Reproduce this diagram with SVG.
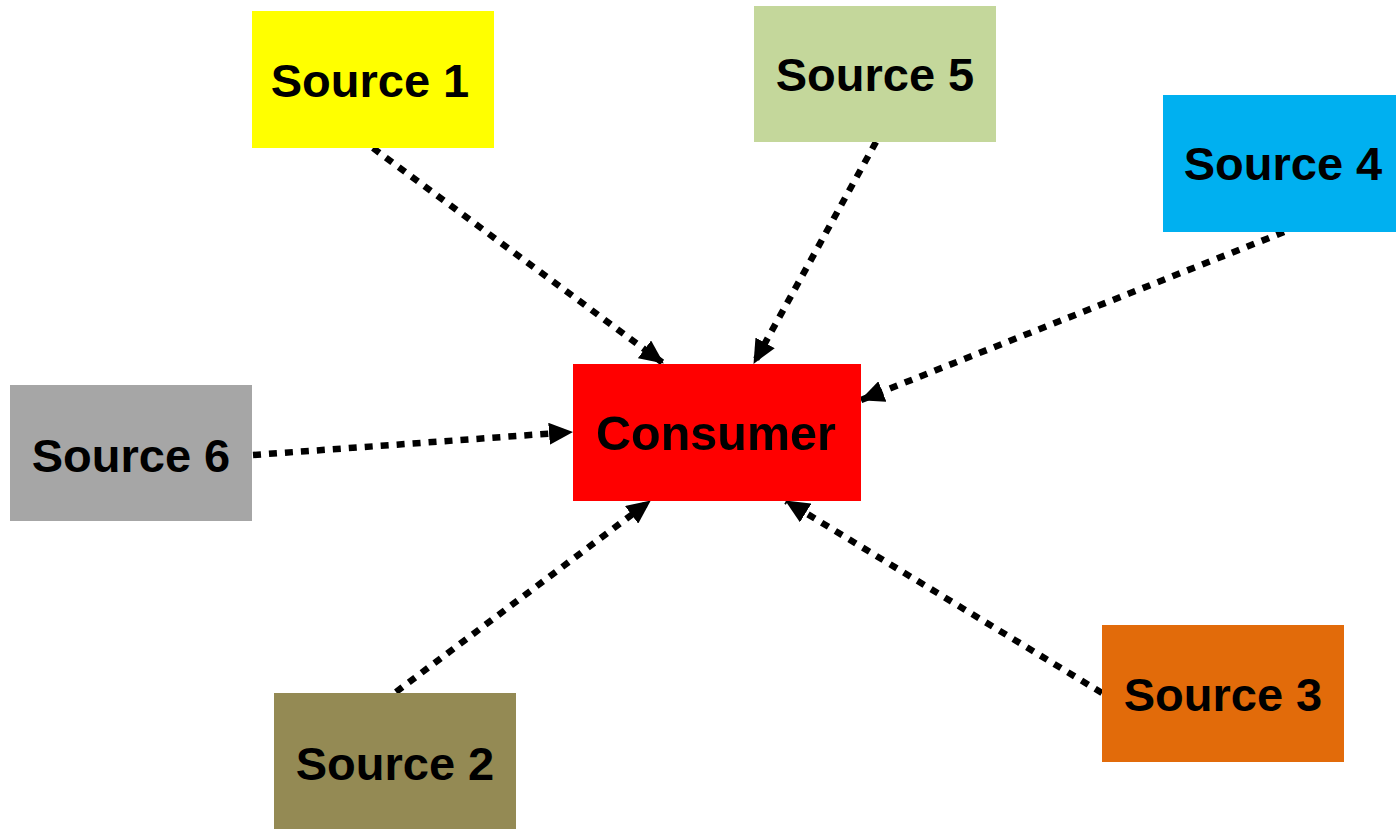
<svg xmlns="http://www.w3.org/2000/svg" width="1396" height="829" viewBox="0 0 1396 829">
<style>
.lbl{font-family:"Liberation Sans",Arial,sans-serif;font-weight:bold;font-size:47px;fill:#000;text-anchor:middle;dominant-baseline:central}
.big{font-size:48.5px}
.conn{stroke:#000;stroke-width:6.5;stroke-dasharray:8 8;fill:none;marker-end:url(#ah)}
</style>
<defs>
<marker id="ah" markerUnits="userSpaceOnUse" markerWidth="24" markerHeight="22" refX="23" refY="11" orient="auto" viewBox="0 0 24 22">
<path d="M0,0 L24,11 L0,22 z" fill="#000"/>
</marker>
</defs>
<rect width="1396" height="829" fill="#fff"/>
<g id="connectors">
<line class="conn" x1="373" y1="148" x2="663" y2="363"/>
<line class="conn" x1="876" y1="142" x2="754" y2="363"/>
<line class="conn" x1="1284" y1="232" x2="861" y2="400"/>
<line class="conn" x1="253" y1="455" x2="572" y2="432"/>
<line class="conn" x1="396" y1="692" x2="650" y2="501"/>
<line class="conn" x1="1102" y1="693" x2="786" y2="501"/>
</g>
<g id="consumer"><rect x="573" y="364" width="288" height="137" fill="#ff0000"/><text class="lbl big" x="716" y="433">Consumer</text></g>
<g id="source1"><rect x="252" y="11" width="242" height="137" fill="#ffff00"/><text class="lbl" x="370" y="80">Source 1</text></g>
<g id="source5"><rect x="754" y="6" width="242" height="136" fill="#c4d79b"/><text class="lbl" x="875" y="74">Source 5</text></g>
<g id="source4"><rect x="1163" y="95" width="233" height="137" fill="#00b0f0"/><text class="lbl" x="1283" y="163">Source 4</text></g>
<g id="source6"><rect x="10" y="385" width="242" height="136" fill="#a6a6a6"/><text class="lbl" x="131" y="455">Source 6</text></g>
<g id="source2"><rect x="274" y="693" width="242" height="136" fill="#948a54"/><text class="lbl" x="395" y="763">Source 2</text></g>
<g id="source3"><rect x="1102" y="625" width="242" height="137" fill="#e26b0a"/><text class="lbl" x="1223" y="694">Source 3</text></g>
</svg>
